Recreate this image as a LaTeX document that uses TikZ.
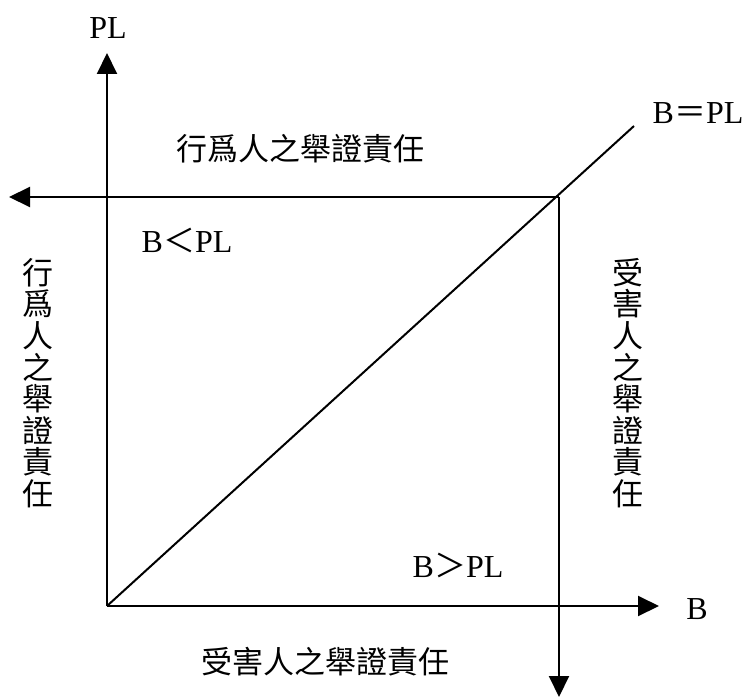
\documentclass[tikz,border=0pt]{standalone}
\usepackage{fontspec}
\setmainfont{Liberation Serif}
\newfontfamily\cjk{Noto Sans CJK TC}
\usetikzlibrary{arrows.meta}
\begin{document}
\begin{tikzpicture}[x=1pt,y=-1pt,
  axisline/.style={line width=2pt,-{Triangle[length=21pt,width=20pt]}},
  plainline/.style={line width=2pt},
  latinlab/.style={inner sep=0pt,anchor=base,font=\fontsize{32}{32}\selectfont},
  cjklab/.style={inner sep=0pt,align=center,font=\cjk\fontsize{31}{31.6}\selectfont}]
\useasboundingbox[fill=white] (0,0) rectangle (744,698);
\coordinate (O) at (107,606);
\coordinate (Ytip) at (107,53);
\coordinate (Xtip) at (659,606);
\coordinate (C) at (559,197);
\coordinate (Ltip) at (9,197);
\coordinate (Dtip) at (559,697);
\coordinate (D) at (634,126);
\draw[axisline] (O) -- (Ytip);
\draw[axisline] (O) -- (Xtip);
\draw[axisline] (C) -- (Ltip);
\draw[axisline] (C) -- (Dtip);
\draw[plainline] (O) -- (D);
\node[latinlab] (pl) at (108,39) {PL};
\node[latinlab] (b) at (697,619) {B};
\node[latinlab] (eq) at (698,124) {B{\cjk ＝}PL};
\node[latinlab] (lt) at (187,252) {B{\cjk ＜}PL};
\node[latinlab] (gt) at (458,577) {B{\cjk ＞}PL};
\node[cjklab] (top) at (300,149) {行爲人之舉證責任};
\node[cjklab] (bottom) at (325,662) {受害人之舉證責任};
\node[cjklab] (left) at (38,383) {行\\爲\\人\\之\\舉\\證\\責\\任};
\node[cjklab] (right) at (628,383) {受\\害\\人\\之\\舉\\證\\責\\任};
\end{tikzpicture}
\end{document}
